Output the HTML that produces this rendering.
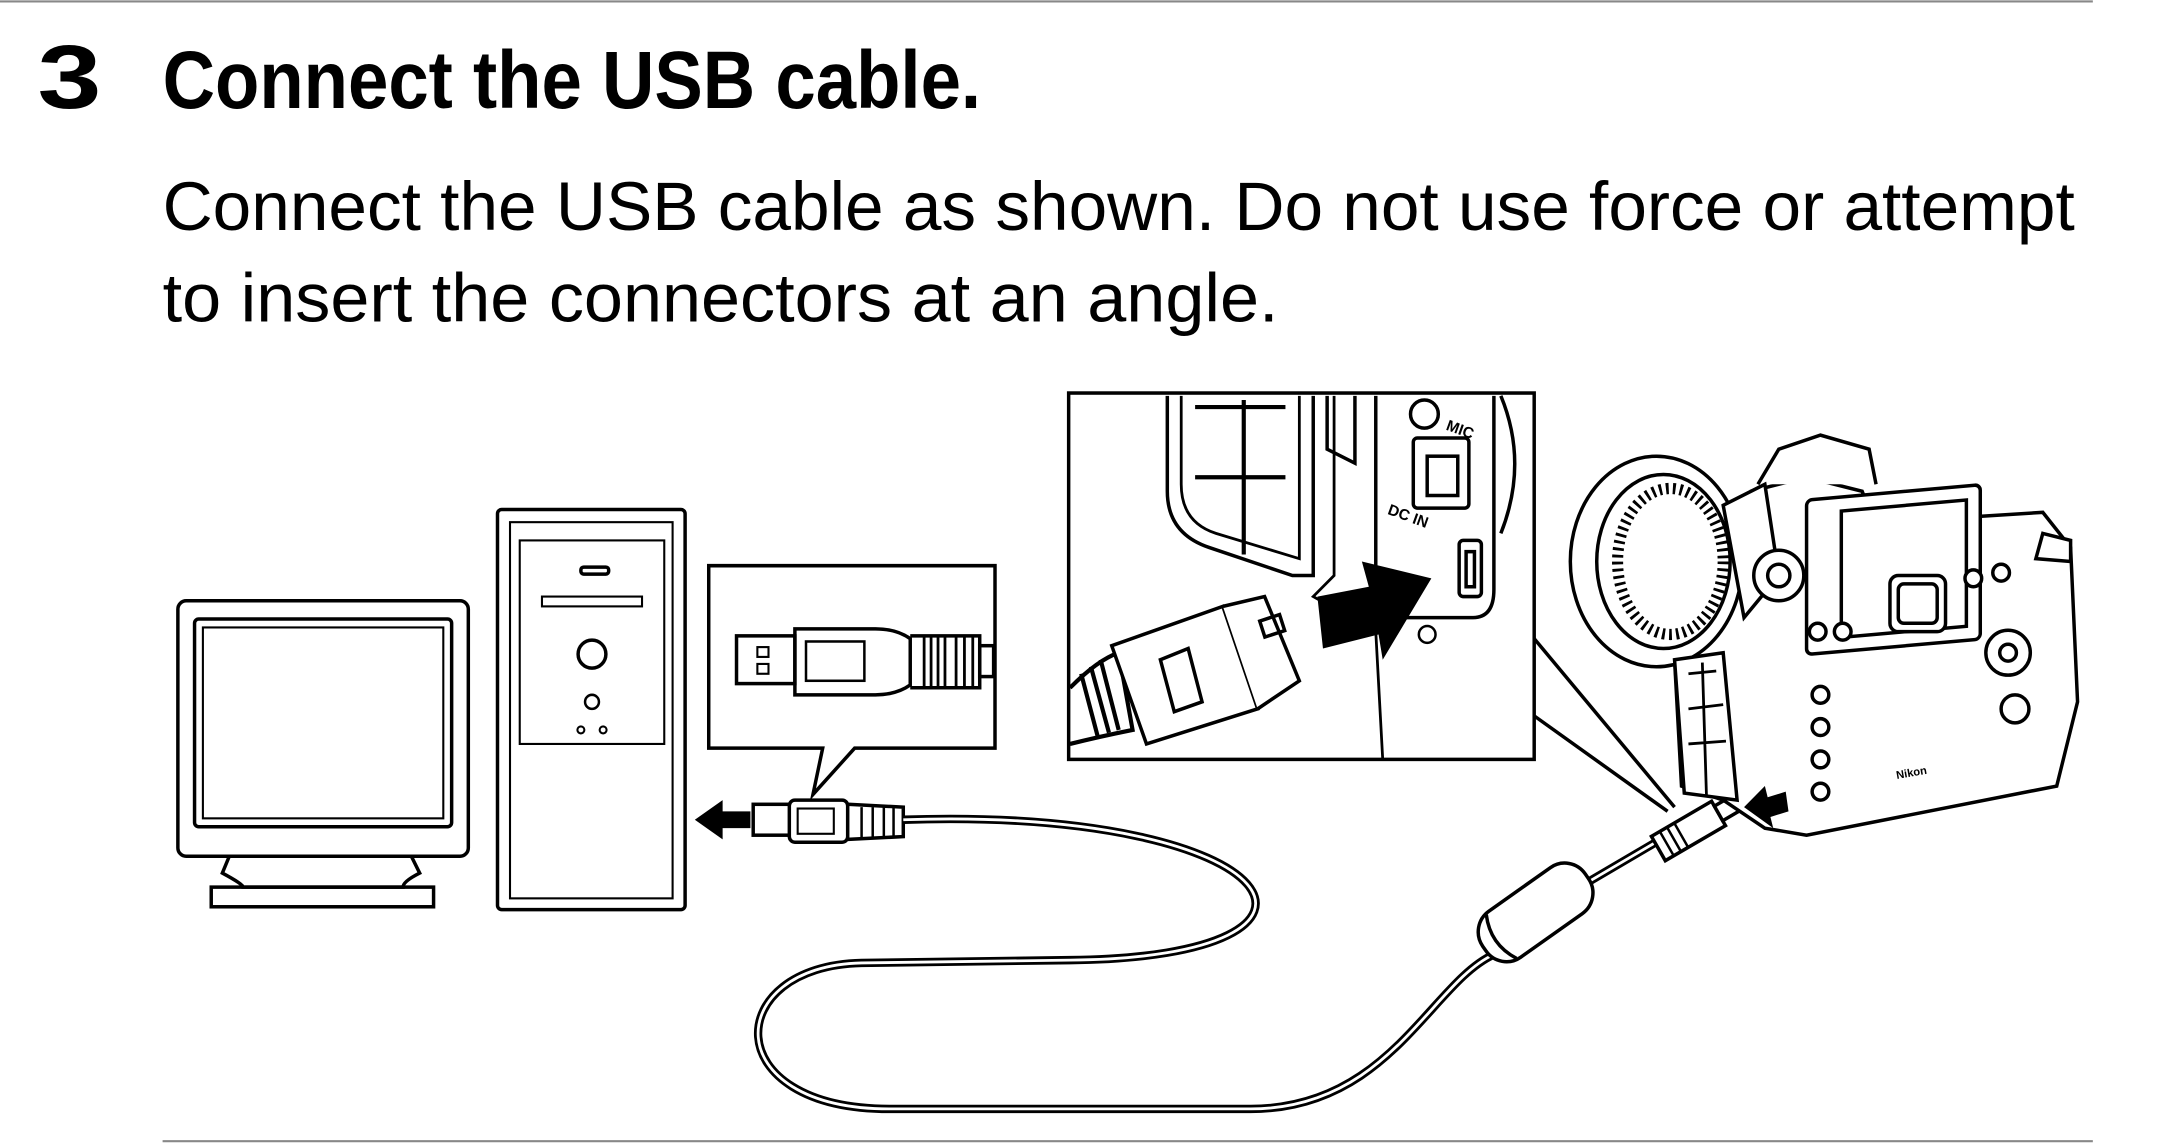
<!DOCTYPE html>
<html><head><meta charset="utf-8"><style>
html,body{margin:0;padding:0;background:#fff;}
svg{display:block;}
</style></head><body>
<svg width="2179" height="1144" viewBox="0 0 1568 815" preserveAspectRatio="none" xmlns="http://www.w3.org/2000/svg" font-family="Liberation Sans, sans-serif">
<line x1="0" y1="1" x2="1506" y2="1" stroke="#888" stroke-width="1.5"/>
<line x1="117" y1="813" x2="1506" y2="813" stroke="#888" stroke-width="1.5"/>
<text x="27" y="77" font-size="64" font-weight="bold" textLength="46" lengthAdjust="spacingAndGlyphs">3</text>
<text x="117" y="77" font-size="58" font-weight="bold" textLength="589" lengthAdjust="spacingAndGlyphs">Connect the USB cable.</text>
<text x="117" y="164" font-size="49" textLength="1376" lengthAdjust="spacingAndGlyphs">Connect the USB cable as shown.  Do not use force or attempt</text>
<text x="117" y="229" font-size="49" textLength="803" lengthAdjust="spacingAndGlyphs">to insert the connectors at an angle.</text>

<g fill="none" stroke="#000" stroke-width="2.5">
<rect x="128" y="428" width="209" height="182" rx="6" fill="#fff"/>
<rect x="140" y="441" width="185" height="148" rx="3"/>
<rect x="146" y="447" width="173" height="136" stroke-width="1.5"/>
<path d="M165 610 L160 622 Q175 630 175 632 L290 632 Q290 628 302 622 L296 610"/>
<rect x="152" y="632" width="160" height="14"/>
<rect x="358" y="363" width="135" height="285" rx="3" fill="#fff"/>
<rect x="367" y="372" width="117" height="268" stroke-width="1.5"/>
<rect x="374" y="385" width="104" height="145" stroke-width="1.5"/>
<rect x="418" y="404" width="20" height="5" rx="2"/>
<rect x="390" y="425" width="72" height="7" stroke-width="1.5"/>
<circle cx="426" cy="466" r="10"/>
<circle cx="426" cy="500" r="5" stroke-width="1.8"/>
<circle cx="418" cy="520" r="2.5" stroke-width="1.5"/>
<circle cx="434" cy="520" r="2.5" stroke-width="1.5"/>
<path d="M510 403 L716 403 L716 533 L615 533 L585 566 L592 533 L510 533 Z" fill="#fff"/>
<rect x="530" y="453" width="42" height="34"/>
<rect x="545" y="461" width="8" height="7" stroke-width="1.5"/><rect x="545" y="473" width="8" height="7" stroke-width="1.5"/>
<path d="M572 448 L630 448 Q645 448 655 455 L655 488 Q645 495 630 495 L572 495 Z"/>
<rect x="580" y="457" width="42" height="28" stroke-width="1.8"/>
<path d="M655 453 L705 453 L705 490 L655 490" />
<path d="M665 453 V490 M670 453 V490 M675 453 V490 M680 453 V490 M688 453 V490 M694 453 V490 M700 453 V490" stroke-width="2"/>
<rect x="705" y="460" width="10" height="22"/>
<rect x="542" y="573" width="28" height="22" fill="#fff"/>
<rect x="568" y="570" width="42" height="30" rx="4" fill="#fff"/>
<rect x="574" y="576" width="26" height="18" stroke-width="1.5"/>
<path d="M610 573 L650 575 L650 596 L610 598 Z" fill="#fff"/>
<path d="M620 575 V597 M628 575 V597 M636 575 V597 M643 575 V597" stroke-width="1.8"/>
<path d="M650 584 C 930 575 990 682 770 684 L 620 686 C 520 688 515 790 640 790 L 900 790 C 1000 790 1030 700 1075 680" stroke-width="6"/>
<path d="M650 584 C 930 575 990 682 770 684 L 620 686 C 520 688 515 790 640 790 L 900 790 C 1000 790 1030 700 1075 680" stroke="#fff" stroke-width="2"/>
<path d="M1140 630 L1195 598" stroke-width="6"/><path d="M1140 630 L1195 598" stroke="#fff" stroke-width="2"/>
<g transform="translate(1105,650) rotate(-35)">
<rect x="-45" y="-20" width="90" height="40" rx="18" fill="#fff"/>
<path d="M-30 -19 Q-40 0 -30 19"/>
</g>
<g transform="translate(1215,592) rotate(-30)">
<rect x="-25" y="-10" width="50" height="20" fill="#fff"/>
<path d="M-18 -10 V10 M-12 -10 V10 M-6 -10 V10" stroke-width="1.8"/>
<rect x="25" y="-6" width="14" height="12" fill="#fff"/>
</g>
</g>
<path d="M500 584 L520 570 L520 578 L540 578 L540 590 L520 590 L520 598 Z" fill="#000"/>

<g stroke="#000" fill="none" stroke-width="2.5">
<line x1="1104" y1="455" x2="1205" y2="575"/>
<line x1="1104" y1="510" x2="1200" y2="578"/>
<rect x="769" y="280" width="335" height="261" fill="#fff"/>
<path d="M840 282 L840 350 Q840 380 870 390 L930 410 L945 410 L945 282"/>
<path d="M850 282 L850 345 Q850 372 875 380 L935 398 L935 282" stroke-width="2"/>
<path d="M860 290 H925 M895 285 V395 M860 340 H925" stroke-width="3"/>
<path d="M955 282 L955 320 L975 330 L975 282"/>
<path d="M990 282 L990 420 Q990 440 1010 440 L1060 440 Q1075 440 1075 420 L1075 282"/>
<path d="M1080 282 Q1100 330 1080 380"/>
<circle cx="1025" cy="295" r="10"/>
<rect x="1017" y="312" width="40" height="50" rx="3"/>
<rect x="1027" y="325" width="22" height="28"/>
<rect x="1050" y="385" width="16" height="40" rx="3"/>
<rect x="1055" y="393" width="6" height="25"/>
<circle cx="1027" cy="452" r="6" stroke-width="1.8"/>
<path d="M960 282 L960 410 L945 425 L990 450 L995 541" stroke-width="2"/>
<path d="M770 490 Q790 470 805 465 L815 520 Q790 525 770 530" stroke-width="3"/>
<path d="M778 480 L790 525 M785 475 L798 522 M792 470 L805 520" stroke-width="3"/>
<path d="M800 460 L880 432 L905 505 L825 530 Z" fill="#fff"/>
<path d="M835 470 L855 462 L865 500 L845 507 Z"/>
<path d="M880 432 L910 425 L935 485 L905 505" fill="#fff"/>
<rect x="908" y="440" width="15" height="12" transform="rotate(-18 915 446)"/>
</g>
<path d="M948 425 L985 418 L980 400 L1030 412 L995 470 L992 452 L952 462 Z" fill="#000"/>
<text x="1040" y="306" font-size="11" font-weight="bold" transform="rotate(20 1040 306)">MIC</text>
<text x="998" y="366" font-size="11" font-weight="bold" transform="rotate(20 998 366)">DC IN</text>

<g stroke="#000" fill="#fff" stroke-width="2.5">
<path d="M1230 400 L1260 350 L1300 340 L1340 350 L1350 375 L1390 370 L1470 365 L1490 390 L1495 500 L1480 560 L1300 595 L1270 590 L1240 570 L1210 560 L1205 470 Z"/>
<path d="M1265 345 L1280 320 L1310 310 L1345 320 L1350 345"/>
<rect x="1300" y="470" width="125" height="110" rx="4" transform="skewY(-5)"/>
<rect x="1325" y="480" width="90" height="90" fill="none" transform="skewY(-5)"/>
<rect x="1360" y="410" width="40" height="40" rx="6"/>
<rect x="1366" y="416" width="28" height="28" rx="4"/>
<circle cx="1445" cy="465" r="16"/>
<circle cx="1445" cy="465" r="6"/>
<circle cx="1450" cy="505" r="10"/>
<circle cx="1420" cy="412" r="6"/><circle cx="1440" cy="408" r="6"/><circle cx="1308" cy="450" r="6"/><circle cx="1326" cy="450" r="6"/>
<circle cx="1310" cy="495" r="6"/><circle cx="1310" cy="518" r="6"/><circle cx="1310" cy="541" r="6"/><circle cx="1310" cy="564" r="6"/>
<path d="M1470 380 L1490 385 L1490 400 L1465 398 Z"/>
<ellipse cx="1192" cy="400" rx="62" ry="75"/>
<ellipse cx="1197" cy="400" rx="48" ry="62"/>
<ellipse cx="1202" cy="400" rx="38" ry="52" fill="none" stroke-width="8" stroke-dasharray="2 3"/>
<path d="M1240 360 L1270 345 L1280 410 L1255 440 Z"/>
<circle cx="1280" cy="410" r="18"/>
<circle cx="1280" cy="410" r="8"/>
<path d="M1205 470 L1240 465 L1250 570 L1212 565 Z"/>
<path d="M1215 480 L1235 478 M1215 505 L1240 502 M1215 530 L1242 528 M1225 472 L1228 568" fill="none" stroke-width="2"/>
</g>
<path d="M1255 575 L1270 560 L1272 568 L1285 564 L1287 578 L1274 582 L1276 590 Z" fill="#000"/>
<text x="1365" y="555" font-size="8" font-weight="bold" transform="rotate(-10 1365 555)">Nikon</text>
</svg>
</body></html>
